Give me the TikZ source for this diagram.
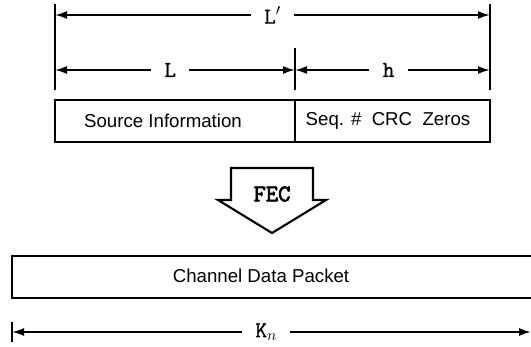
\documentclass[tikz,border=0pt]{standalone}
\usepackage{fontspec}
\setmainfont{Liberation Sans}
\newfontfamily\dimfont{Latin Modern Mono}[FakeBold=1]
\newfontfamily\fecfont{Latin Modern Mono}[FakeBold=3]
\usetikzlibrary{arrows.meta}

\tikzset{
  dimline/.style={line width=1.4pt, {Latex[length=9pt,width=6pt]}-{Latex[length=9pt,width=6pt]}},
  tickline/.style={line width=1.4pt},
  dimlabel/.style={fill=white, inner xsep=10pt, inner ysep=4pt, font=\fontsize{17}{17}\selectfont\dimfont},
  field/.style={draw, line width=1.8pt, minimum height=31.5pt, inner sep=0pt},
  fieldtext/.style={inner sep=0pt, font=\fontsize{14}{14}\selectfont}
}

\begin{document}
\begin{tikzpicture}[x=0.75pt,y=0.75pt,yscale=-1,xscale=1]
      \clip (0,0) rectangle (531,346);

      % ticks of the dimension lines
      \coordinate (lt) at (55,4);   \coordinate (lb) at (55,90);
      \coordinate (rt) at (490,4);  \coordinate (rb) at (490,90);
      \coordinate (mt) at (295,48); \coordinate (mb) at (295,90);
      \draw [tickline] (lt) -- (lb);
      \draw [tickline] (rt) -- (rb);
      \draw [tickline] (mt) -- (mb);

      % L' over the whole packet
      \coordinate (lp1) at (55,15);  \coordinate (lp2) at (490,15);
      \draw [dimline] (lp1) -- node [dimlabel] (lplabel) {L$'$} (lp2);
      % L and h
      \coordinate (l1) at (55,70);  \coordinate (l2) at (295,70);  \coordinate (h2) at (490,70);
      \draw [dimline] (l1) -- node [dimlabel, pos=0.48] (llabel) {L} (l2);
      \draw [dimline] (l2) -- node [dimlabel, pos=0.48] (hlabel) {h} (h2);

      % packet fields
      \node [field, minimum width=180pt] (src) at (175,121) {};
      \node [field, minimum width=146.25pt] (hdr) at (392.5,121) {};
      \node [fieldtext] (srctext) at (163,121) {Source Information};
      \node [fieldtext] (hdrtext) at (388,121) {Seq. \#\ \ CRC\ \ Zeros};

      % FEC block arrow
      \draw [line width=1.6pt, line join=miter] (231,168) -- (313,168) -- (313,200) -- (326,200) -- (272,233) -- (218,200) -- (231,200) -- cycle;
      \node [inner sep=0pt, font=\fontsize{18}{18}\selectfont\fecfont] (fec) at (272,194) {FEC};

      % channel packet
      \node [field, minimum width=396pt] (chan) at (276,277) {};
      \node [fieldtext] (chantext) at (261,276) {Channel Data Packet};

      % K_n
      \coordinate (kt) at (12,322); \coordinate (kb) at (12,342);
      \draw [tickline] (kt) -- (kb);
      \coordinate (k1) at (12,332); \coordinate (k2) at (531,332);
      \draw [dimline] (k1) -- node [dimlabel, pos=0.49] (klabel) {K$_n$} (k2);

\end{tikzpicture}
\end{document}
